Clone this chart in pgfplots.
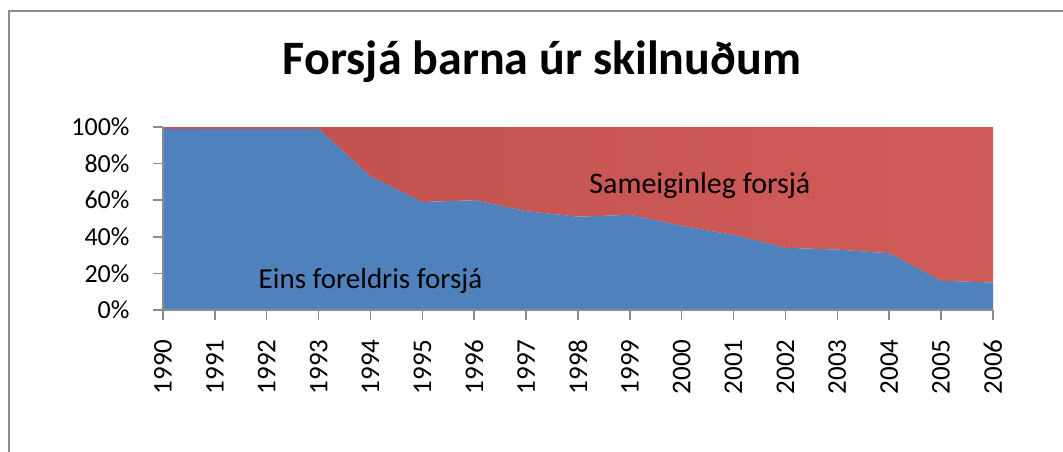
\documentclass[border=0pt]{standalone}
\usepackage{fontspec}
\setmainfont{Carlito}
\usepackage{pgfplots}
\pgfplotsset{compat=1.18}
\definecolor{eblue}{HTML}{4F81BD}
\definecolor{ered}{HTML}{C0504D}
\definecolor{ered2}{HTML}{D05C59}
\definecolor{axgray}{HTML}{8C8C8C}
\begin{document}
\begin{tikzpicture}[x=1pt,y=1pt]
\useasboundingbox (0,0) rectangle (1063,451);
\draw[axgray, line width=2pt] (9,-2) -- (9,440) -- (1066,440);
\node[font=\bfseries\fontsize{48}{50}\selectfont] at (542,389) {Forsjá barna úr skilnuðum};
\begin{axis}[
  at={(163pt,141pt)}, anchor=south west,
  scale only axis, width=830pt, height=183pt,
  xmin=1990, xmax=2006, ymin=0, ymax=100,
  stack plots=y, area style,
  axis x line*=bottom, axis y line*=left,
  axis line style={axgray, line width=2pt},
  every tick/.style={axgray, line width=1.5pt},
  tick align=outside, major tick length=10pt,
  xtick={1990,...,2006}, ytick={0,20,...,100},
  /pgf/number format/assume math mode=true,
  /pgf/number format/1000 sep={},
  xticklabel style={rotate=90, anchor=east, font=\fontsize{27}{28}\selectfont, xshift=-16pt},
  yticklabel style={font=\fontsize{26}{28}\selectfont, xshift=-20pt},
  yticklabel={\pgfmathprintnumber{\tick}\%},
  clip=false,
]
\addplot[draw=none, fill=eblue] coordinates {
 (1990,99) (1991,99) (1992,99) (1993,99) (1994,73) (1995,59) (1996,60)
 (1997,54) (1998,51) (1999,52) (2000,46) (2001,41) (2002,34) (2003,33)
 (2004,31) (2005,16) (2006,15)} \closedcycle;
\addplot[draw=none, left color=ered, right color=ered2] coordinates {
 (1990,1) (1991,1) (1992,1) (1993,1) (1994,27) (1995,41) (1996,40)
 (1997,46) (1998,49) (1999,48) (2000,54) (2001,59) (2002,66) (2003,67)
 (2004,69) (2005,84) (2006,85)} \closedcycle;
\coordinate (LA) at (axis cs:1994,16);
\coordinate (LB) at (axis cs:2000.35,68);
\end{axis}
\node[font=\fontsize{29}{30}\selectfont] at (LA) {Eins foreldris forsjá};
\node[font=\fontsize{30}{31}\selectfont] at (LB) {Sameiginleg forsjá};
\end{tikzpicture}
\end{document}
